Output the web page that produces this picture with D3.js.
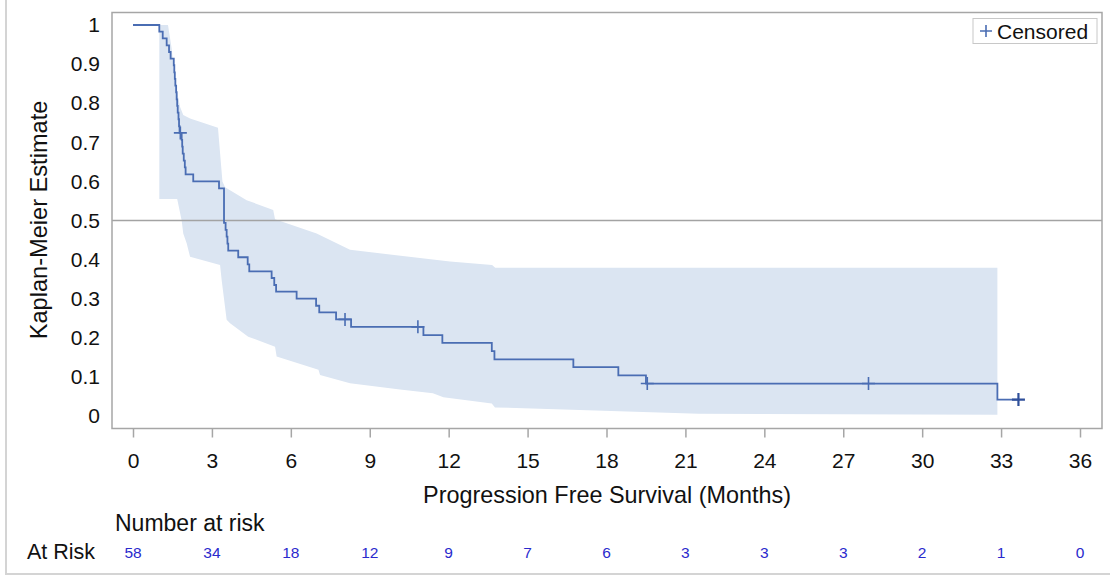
<!DOCTYPE html>
<html>
<head>
<meta charset="utf-8">
<script src="https://cdn.jsdelivr.net/npm/d3@7"></script>
<style>
  body { margin: 0; background: #fff; }
  text { font-family: "Liberation Sans", Arial, sans-serif; }
</style>
</head>
<body>
<div id="chart"></div>
<script>
// Kaplan-Meier step curve (time in months, survival after the step)
const kmTimes = [0, 1.0, 1.13, 1.28, 1.37, 1.43, 1.55, 1.57, 1.59, 1.61, 1.64, 1.66, 1.68, 1.70, 1.73, 1.75, 1.77,
  1.85, 1.87, 1.89, 1.93, 1.97, 2.0, 2.29, 3.27, 3.46, 3.52, 3.56, 3.59, 3.62, 4.0, 4.36, 4.42, 5.27, 5.37, 5.44,
  6.22, 6.96, 7.08, 7.72, 8.29, 11.04, 11.76, 13.64, 13.74, 16.74, 18.45, 19.5, 32.86, 33.66];
const kmSurv = [1, 0.983, 0.966, 0.948, 0.931, 0.914, 0.897, 0.879, 0.862, 0.845, 0.828, 0.810, 0.793, 0.776, 0.759, 0.741, 0.724,
  0.706, 0.689, 0.671, 0.653, 0.636, 0.618, 0.600, 0.582, 0.494, 0.476, 0.459, 0.441, 0.423, 0.406, 0.388, 0.370, 0.353, 0.335, 0.318,
  0.300, 0.282, 0.265, 0.247, 0.228, 0.207, 0.187, 0.166, 0.145, 0.125, 0.104, 0.083, 0.042, 0.042];

// censored observations
const censorTimes = [1.80, 8.06, 10.83, 19.55, 27.96, 33.66];
const censorSurv = [0.724, 0.247, 0.228, 0.083, 0.083, 0.042];

// confidence band edges [time, value]
const bandUpper = [[1.0, 1.0], [1.33, 1.0], [1.47, 0.94], [1.6, 0.855], [1.79, 0.79], [1.91, 0.77], [2.17, 0.761],
  [3.23, 0.737], [3.4, 0.60], [3.5, 0.585], [4.32, 0.552], [5.33, 0.527], [5.4, 0.503], [6.98, 0.467], [8.25, 0.425],
  [12.05, 0.395], [13.65, 0.386], [13.77, 0.379], [32.86, 0.379]];
const bandLower = [[1.0, 0.555], [1.68, 0.555], [1.85, 0.50], [1.91, 0.467], [2.04, 0.442], [2.17, 0.407], [3.31, 0.386],
  [3.37, 0.348], [3.56, 0.246], [3.69, 0.237], [4.38, 0.203], [5.4, 0.177], [5.46, 0.152], [7.05, 0.118], [7.11, 0.105],
  [8.25, 0.084], [10.15, 0.068], [11.4, 0.058], [11.8, 0.048], [13.64, 0.032], [13.76, 0.022], [21.5, 0.006], [32.86, 0.003]];

// number at risk
const riskTimes = [0, 3, 6, 9, 12, 15, 18, 21, 24, 27, 30, 33, 36];
const riskCounts = [58, 34, 18, 12, 9, 7, 6, 3, 3, 3, 2, 1, 0];

const xTicks = d3.range(0, 37, 3);
const yTicks = d3.range(0, 11).map(d => d / 10);

const width = 1110, height = 577;
const frame = { left: 112, top: 12.5, right: 1102, bottom: 428.5 };
const lineColor = "#4a6db3";

const svg = d3.select("#chart").append("svg")
  .attr("width", width)
  .attr("height", height);

const x = d3.scaleLinear().domain([0, 36]).range([133, 1080]);
const y = d3.scaleLinear().domain([0, 1]).range([416, 25]);

// outer border (left and bottom visible)
svg.append("path")
  .attr("d", `M6,0V574H${width}`)
  .attr("fill", "none")
  .attr("stroke", "#d4d4d4")
  .attr("stroke-width", 2);

// confidence band
const bandPoly = bandUpper.concat(bandLower.slice().reverse());
svg.append("path")
  .datum(bandPoly)
  .attr("fill", "#dbe5f2")
  .attr("stroke", "none")
  .attr("d", d3.line().x(d => x(d[0])).y(d => y(d[1])).curve(d3.curveLinearClosed));

// reference line at median
svg.append("line")
  .attr("x1", frame.left).attr("x2", frame.right)
  .attr("y1", y(0.5)).attr("y2", y(0.5))
  .attr("stroke", "#a3a3a3")
  .attr("stroke-width", 1.5);

// KM curve
const km = kmTimes.map((t, i) => [t, kmSurv[i]]);
svg.append("path")
  .datum(km)
  .attr("fill", "none")
  .attr("stroke", lineColor)
  .attr("stroke-width", 1.8)
  .attr("d", d3.line().x(d => x(d[0])).y(d => y(d[1])).curve(d3.curveStepAfter));

// censor marks
const cs = 6.5;
svg.append("g").selectAll("path")
  .data(censorTimes.map((t, i) => [t, censorSurv[i]]))
  .join("path")
  .attr("d", d => {
    const cx = x(d[0]), cy = y(d[1]);
    return `M${cx - cs},${cy}H${cx + cs}M${cx},${cy - cs}V${cy + cs}`;
  })
  .attr("stroke", (d, i) => i === censorTimes.length - 1 ? "#2f4f9a" : lineColor)
  .attr("stroke-width", (d, i) => i === censorTimes.length - 1 ? 2.2 : 1.6)
  .attr("fill", "none");

// frame
svg.append("rect")
  .attr("x", frame.left).attr("y", frame.top)
  .attr("width", frame.right - frame.left)
  .attr("height", frame.bottom - frame.top)
  .attr("fill", "none")
  .attr("stroke", "#a6a6a6")
  .attr("stroke-width", 1.5);

// x axis
const xAxis = svg.append("g")
  .attr("transform", `translate(0,${frame.bottom})`)
  .call(d3.axisBottom(x).tickValues(xTicks).tickSize(9).tickSizeOuter(0).tickPadding(16));
xAxis.select(".domain").remove();
xAxis.selectAll(".tick line").attr("stroke", "#a6a6a6").attr("stroke-width", 1.5);
xAxis.selectAll(".tick text").style("font-size", "21px").attr("fill", "#111");

// y axis
const yAxis = svg.append("g")
  .attr("transform", `translate(${frame.left},0)`)
  .call(d3.axisLeft(y).tickValues(yTicks).tickSize(0).tickPadding(12).tickFormat(d3.format("~g")));
yAxis.select(".domain").remove();
yAxis.selectAll(".tick text").style("font-size", "21px").attr("fill", "#111");

// axis titles
svg.append("text")
  .attr("x", (frame.left + frame.right) / 2)
  .attr("y", 503)
  .attr("text-anchor", "middle")
  .style("font-size", "23.4px")
  .attr("fill", "#111")
  .text("Progression Free Survival (Months)");

svg.append("text")
  .attr("transform", "rotate(-90)")
  .attr("x", -220)
  .attr("y", 47)
  .attr("text-anchor", "middle")
  .style("font-size", "23.6px")
  .attr("fill", "#111")
  .text("Kaplan-Meier Estimate");

// legend
svg.append("rect")
  .attr("x", 973).attr("y", 18.5)
  .attr("width", 124).attr("height", 25)
  .attr("fill", "#fff")
  .attr("stroke", "#c8c8c8");
svg.append("path")
  .attr("d", "M980,31H992M986,25V37")
  .attr("stroke", lineColor)
  .attr("stroke-width", 1.6);
svg.append("text")
  .attr("x", 997).attr("y", 38.5)
  .style("font-size", "21px")
  .attr("fill", "#111")
  .text("Censored");

// number at risk table
svg.append("text")
  .attr("x", 115).attr("y", 531)
  .style("font-size", "23px")
  .attr("fill", "#111")
  .text("Number at risk");

svg.append("text")
  .attr("x", 95).attr("y", 559)
  .attr("text-anchor", "end")
  .style("font-size", "21.5px")
  .attr("fill", "#111")
  .text("At Risk");

svg.append("g").selectAll("text")
  .data(riskTimes.map((t, i) => [t, riskCounts[i]]))
  .join("text")
  .attr("x", d => x(d[0]))
  .attr("y", 558)
  .attr("text-anchor", "middle")
  .style("font-size", "15.5px")
  .attr("fill", "#2a2acd")
  .text(d => d[1]);
</script>
</body>
</html>
